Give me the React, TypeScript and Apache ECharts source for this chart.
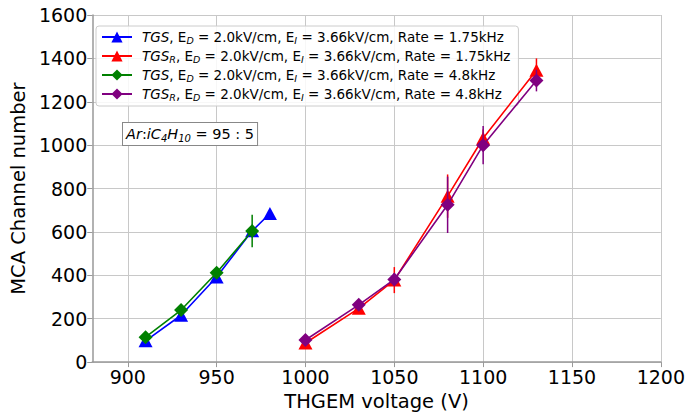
import React, { useEffect, useRef } from 'react';
import * as echarts from 'echarts';

const xTicks = [900, 950, 1000, 1050, 1100, 1150, 1200];
const seriesNames = ['TGS_1.75', 'TGSR_1.75', 'TGS_4.8', 'TGSR_4.8'];
const seriesColors = ['#0000ff', '#ff0000', '#008000', '#800080'];
const seriesSymbols = ['triangle', 'triangle', 'diamond', 'diamond'];

const tgsLowV = [910, 930, 950, 970, 980];
const tgsLowY = [98, 216, 392, 605, 685];
const tgsLowErr = [8, 8, 10, 12, 10];

const tgsRLowV = [1000, 1030, 1050, 1080, 1100, 1130];
const tgsRLowY = [88, 248, 378, 765, 1032, 1345];
const tgsRLowErr = [15, 15, 60, 100, 40, 55];

const tgsHighV = [910, 930, 950, 970];
const tgsHighY = [115, 240, 412, 604];
const tgsHighErr = [10, 10, 15, 75];

const tgsRHighV = [1000, 1030, 1050, 1080, 1100, 1130];
const tgsRHighY = [102, 264, 381, 725, 1000, 1298];
const tgsRHighErr = [10, 12, 30, 130, 88, 50];

const legendLabels: Record<string, string> = {
  'TGS_1.75': '{it|TGS}{n|, E}{sub|D}{n| = 2.0kV/cm, E}{sub|I}{n| = 3.66kV/cm, Rate = 1.75kHz}',
  'TGSR_1.75': '{it|TGS}{sub|R}{n|, E}{sub|D}{n| = 2.0kV/cm, E}{sub|I}{n| = 3.66kV/cm, Rate = 1.75kHz}',
  'TGS_4.8': '{it|TGS}{n|, E}{sub|D}{n| = 2.0kV/cm, E}{sub|I}{n| = 3.66kV/cm, Rate = 4.8kHz}',
  'TGSR_4.8': '{it|TGS}{sub|R}{n|, E}{sub|D}{n| = 2.0kV/cm, E}{sub|I}{n| = 3.66kV/cm, Rate = 4.8kHz}',
};

const FONT = 'DejaVu Sans';

export default function App() {
  const ref = useRef<HTMLDivElement>(null);
  useEffect(() => {
    if (!ref.current) return;
    const chart = echarts.init(ref.current, undefined, { renderer: 'svg' });
    const groups = [
      [tgsLowV, tgsLowY, tgsLowErr],
      [tgsRLowV, tgsRLowY, tgsRLowErr],
      [tgsHighV, tgsHighY, tgsHighErr],
      [tgsRHighV, tgsRHighY, tgsRHighErr],
    ];
    const series: any[] = [];
    groups.forEach((g, i) => {
      const [vx, vy, ve] = g;
      const color = seriesColors[i];
      series.push({
        type: 'custom',
        name: seriesNames[i] + '_err',
        z: 1 + i * 2,
        encode: { x: 0, y: 1 },
        data: vx.map((x, k) => [x, vy[k], ve[k]]),
        renderItem: (params: any, api: any) => {
          const x = api.value(0);
          const y = api.value(1);
          const e = api.value(2);
          const p1 = api.coord([x, y - e]);
          const p2 = api.coord([x, y + e]);
          return {
            type: 'line',
            shape: { x1: p1[0], y1: p1[1], x2: p2[0], y2: p2[1] },
            style: { stroke: color, lineWidth: 1.5 },
          };
        },
      });
      series.push({
        type: 'line',
        name: seriesNames[i],
        z: 2 + i * 2,
        data: vx.map((x, k) => [x, vy[k]]),
        symbol: seriesSymbols[i],
        symbolSize: seriesSymbols[i] === 'triangle' ? [14, 13] : [14, 14],
        showAllSymbol: true,
        itemStyle: { color },
        lineStyle: { color, width: 1.6 },
      });
    });

    chart.setOption({
      animation: false,
      textStyle: { fontFamily: FONT },
      grid: { left: 91, right: 27, top: 15, bottom: 52, containLabel: false },
      xAxis: {
        type: 'value',
        min: 880,
        max: 1200,
        splitNumber: 6,
        name: 'THGEM voltage (V)',
        nameLocation: 'middle',
        nameGap: 23,
        nameTextStyle: { fontSize: 19.5, color: '#000', fontFamily: FONT },
        axisLine: { show: true, lineStyle: { color: '#999', width: 1.5 } },
        axisTick: { show: true, length: 5, lineStyle: { color: '#999' }, customValues: xTicks },
        axisLabel: { fontSize: 19, color: '#000', margin: 5, customValues: xTicks, fontFamily: FONT, formatter: (v: number) => String(v) },
        splitLine: { show: true, lineStyle: { color: '#c8c8c8', width: 1 } },
      },
      yAxis: {
        type: 'value',
        min: 0,
        max: 1600,
        interval: 200,
        name: 'MCA Channel number',
        nameLocation: 'middle',
        nameGap: 54,
        nameTextStyle: { fontSize: 19.5, color: '#000', fontFamily: FONT },
        axisLine: { show: true, lineStyle: { color: '#999', width: 1.5 } },
        axisTick: { show: true, length: 5, lineStyle: { color: '#999' } },
        axisLabel: { fontSize: 19, color: '#000', margin: 5, fontFamily: FONT, formatter: (v: number) => String(v) },
        splitLine: { show: true, lineStyle: { color: '#c8c8c8', width: 1 } },
      },
      legend: {
        data: seriesNames,
        orient: 'vertical',
        left: 96,
        top: 26,
        itemWidth: 30,
        itemHeight: 14,
        itemGap: 4,
        padding: [4, 8, 4, 5],
        borderColor: '#ccc',
        borderWidth: 1,
        borderRadius: 3,
        backgroundColor: 'rgba(255,255,255,0.85)',
        formatter: (name: string) => legendLabels[name],
        textStyle: {
          fontFamily: FONT,
          fontSize: 13.5,
          color: '#000',
          padding: [0, 0, 0, 5],
          rich: {
            it: { fontFamily: FONT, fontSize: 13.5, fontStyle: 'italic', color: '#000', lineHeight: 16 },
            n: { fontFamily: FONT, fontSize: 13.5, color: '#000', lineHeight: 16 },
            sub: { fontFamily: FONT, fontSize: 9.5, fontStyle: 'italic', color: '#000', verticalAlign: 'bottom', lineHeight: 9 },
          },
        },
      },
      graphic: [
        {
          type: 'text',
          left: 122,
          top: 122,
          z: 100,
          style: {
            text: '{i|Ar}{n|:}{i|iC}{s|4}{i|H}{s|10}{n| = 95 : 5}',
            fill: '#000',
            backgroundColor: '#fff',
            borderColor: '#888',
            borderWidth: 1,
            padding: [2, 3, 2, 3],
            rich: {
              i: { fontFamily: FONT, fontSize: 14.5, fontStyle: 'italic', fill: '#000', lineHeight: 18 },
              n: { fontFamily: FONT, fontSize: 14.5, fill: '#000', lineHeight: 18 },
              s: { fontFamily: FONT, fontSize: 10, fontStyle: 'italic', fill: '#000', verticalAlign: 'bottom', lineHeight: 10 },
            },
          },
        },
      ],
      series,
    });
    return () => chart.dispose();
  }, []);
  return <div ref={ref} style={{ position: 'absolute', left: 0, top: 0, width: 688, height: 416 }} />;
}
